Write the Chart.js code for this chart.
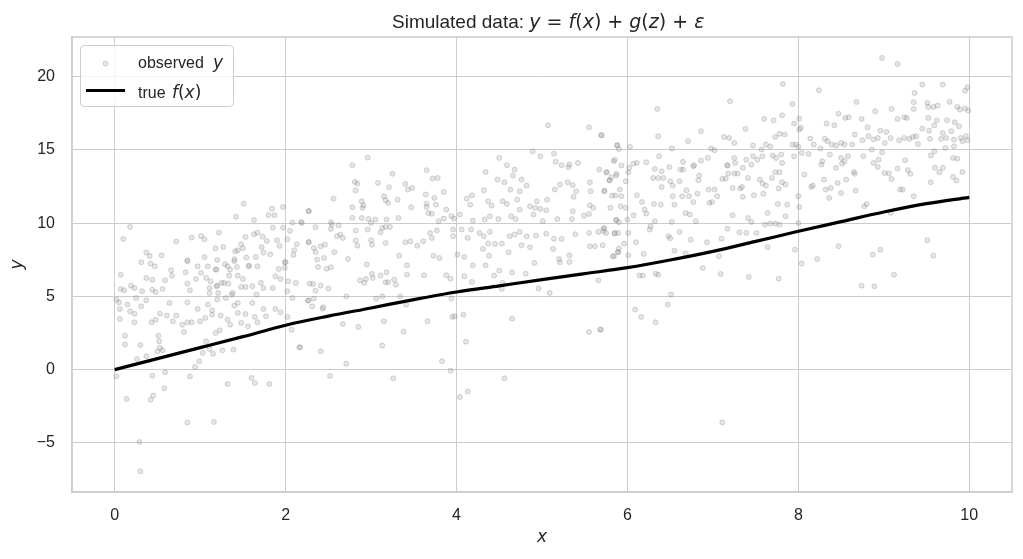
<!DOCTYPE html>
<html>
<head>
<meta charset="utf-8">
<script src="https://cdn.jsdelivr.net/npm/chart.js@4.4.0/dist/chart.umd.min.js"></script>
<style>
  body { margin: 0; background: #fff; }
  canvas { display: block; }
</style>
</head>
<body>
<canvas id="myChart" width="1023" height="559"></canvas>
<script>
const curveX = [0, 0.5, 1, 1.5, 2, 2.5, 3, 3.5, 4, 4.5, 5, 5.5, 6, 6.5, 7, 7.5, 8, 8.5, 9, 9.5, 10];
const curveY = [0, 0.75, 1.5, 2.25, 3.03, 3.65, 4.21, 4.78, 5.3, 5.72, 6.14, 6.55, 6.96, 7.48, 8.07, 8.75, 9.44, 10.1, 10.76, 11.33, 11.76];

const xTicks = [0, 2, 4, 6, 8, 10];
const yTicks = [-5, 0, 5, 10, 15, 20];

// observed y as [x, y]
const observed = [
  [0.31,7.33],[0.42,7.24],[0.47,7.05],[0.85,7.4],[0.97,7.05],[1.09,7.05],[1.19,6.83],[1.29,7.2],[1.4,7.4],[1.57,7.05],[1.67,7.05],[1.99,7.33],[1.99,6.96],
  [0.07,6.48],[0.37,6.26],[0.44,6.14],[0.66,6.78],[0.67,6.42],[0.83,6.64],[0.95,6.19],[1.01,6.6],[1.07,6.26],[1.12,6.03],[1.18,6.83],[1.34,6.42],[1.44,6.42],[1.5,6.19],[1.71,5.92],[1.88,6.37],[1.94,6.19],[2.03,6.03],[2.12,5.92],
  [0.07,5.5],[0.11,5.42],[0.19,5.73],[0.23,5.57],[0.32,5.35],[0.44,5.46],[0.48,5.3],[0.56,5.5],[0.85,5.87],[0.88,5.42],[1.11,5.57],[1.11,5.23],[1.2,5.73],[1.21,5.23],[1.28,5.92],[1.33,5.87],[1.38,5.23],[1.48,5.64],[1.53,5.64],[1.61,5.69],[1.66,5.12],[1.74,5.57],[1.85,5.57],[2.02,5.35],[2.08,4.89],[2.28,5.87],
  [0.02,4.78],[0.05,4.6],[0.06,4.14],[0.15,4.44],[0.18,3.98],[0.23,3.82],[0.25,4.89],[0.31,4.32],[0.37,4.73],[0.64,4.55],[0.85,4.6],[0.97,4.14],[1.09,4.44],[1.14,4.05],[1.2,4.78],[1.3,4.89],[1.4,4.37],[1.44,4.55],[1.61,4.55],[1.74,4.14],[1.88,4.14],[1.94,3.91],[2.27,4.73],
  [0.06,3.46],[0.23,3.23],[0.43,3.23],[0.48,3.41],[0.53,3.82],[0.61,3.69],[0.68,3.3],[0.72,3.69],[0.79,3.07],[0.85,3.23],[0.9,3.23],[1.0,3.3],[1.06,3.53],[1.14,3.75],[1.24,3.69],[1.32,3.41],[1.35,3.07],[1.44,3.87],[1.48,3.19],[1.53,3.8],[1.56,2.96],[1.64,3.6],[1.67,3.23],[1.77,3.64],[2.02,3.6],[2.07,2.73],
  [0.12,2.32],[0.12,1.71],[0.3,1.68],[0.51,2.32],[0.52,1.93],[0.53,1.48],[0.56,1.32],[0.5,1.25],[0.26,0.73],[0.37,0.91],[0.81,2.57],[1.07,1.93],[1.03,1.14],[1.11,1.41],[1.15,1.09],[1.18,2.5],[1.23,2.68],[1.26,1.32],[1.39,1.37],[0.99,0.57],[0.94,0.18],[2.16,1.52],
  [0.02,-0.46],[0.44,-0.41],[0.59,-0.18],[0.88,-0.46],[1.32,-0.98],[1.6,-0.57],[1.64,-0.91],[1.81,-0.98],[0.58,-1.27],[0.45,-1.77],[0.42,-2.05],[0.14,-2.0],[0.85,-3.6],[1.16,-3.57],[0.29,-4.94],[0.3,-6.94],
  [1.51,11.33],[1.42,10.44],[1.63,10.22],[1.84,10.99],[1.97,11.1],[1.8,10.56],[1.87,10.54],[2.27,10.83],[2.08,10.04],[2.18,10.08],[0.18,9.74],[0.1,8.92],[0.72,8.74],[0.9,9.01],[1.01,9.12],[1.05,8.9],[1.22,9.35],[1.18,8.28],[1.27,8.37],[1.48,8.56],[1.53,9.06],[1.63,9.24],[1.67,9.35],[1.73,9.08],[1.78,8.78],[1.85,9.69],[1.97,9.69],[2.02,8.9],[2.05,9.47],[2.27,8.71],[1.9,8.83],
  [0.37,7.99],[0.41,7.76],[0.55,7.8],[0.85,7.46],[1.05,7.69],[1.2,7.49],[1.4,7.53],[1.44,8.15],[1.5,8.28],[1.54,7.65],[1.65,7.69],[1.74,7.99],[1.82,7.87],[1.93,8.44],[2.1,8.15],[2.13,8.56],[2.09,7.83],
  [1.41,8.08],[1.57,7.1],[1.72,8.37],[1.92,6.87],[2.0,7.33],[0.59,6.1],[1.43,7.0],[1.32,7.05],[1.35,6.83],[1.19,5.69],[1.25,5.92],[1.37,5.12],
  [5.07,16.68],[5.55,16.54],[5.69,16.0],[5.88,15.31],[4.89,14.9],[4.98,14.56],[5.14,14.74],[5.16,14.18],[5.23,13.95],[5.32,14.0],[5.31,13.81],[5.42,14.11],[5.67,13.65],[5.75,13.47],[5.84,14.22],[5.79,12.92],[5.87,13.24],
  [2.78,13.95],[2.96,14.47],[3.65,13.61],[3.25,13.36],[3.72,13.04],[3.78,13.08],[4.5,14.45],[4.59,13.95],[4.68,13.65],[4.66,13.24],[4.34,13.49],[4.48,12.97],[4.56,12.79],[4.76,12.97],[4.82,12.56],
  [2.81,12.81],[2.84,12.7],[2.82,12.22],[3.08,12.74],[3.21,12.45],[3.4,12.67],[3.43,12.29],[3.48,12.4],[3.85,12.13],[4.63,12.29],[4.74,12.17],[4.32,12.24],
  [2.56,11.67],[3.15,11.83],[3.17,11.56],[3.2,11.38],[3.31,11.6],[3.64,11.95],[3.74,11.72],[4.12,11.67],[4.18,11.9],[4.16,11.26],[4.37,11.49],[4.41,11.19],[4.54,11.49],[4.59,11.31],[4.71,11.6],[4.74,10.92],[4.86,11.15],[4.94,11.49],[4.92,11.04],[4.98,10.97],[5.05,10.88],[5.06,11.6],
  [5.15,12.29],[5.21,12.63],[5.3,12.79],[5.36,12.6],[5.4,12.17],[5.37,11.79],[5.56,12.79],[5.57,12.17],[5.73,12.22],[5.82,11.88],[5.56,11.22],[5.6,11.04],
  [2.27,10.81],[2.78,11.08],[2.89,11.49],[2.9,11.04],[2.89,10.35],[2.97,10.28],[3.05,10.24],[3.18,10.24],[3.32,10.35],[3.47,11.08],[3.65,11.1],[3.67,10.69],[3.76,11.26],[3.88,10.92],[3.79,10.13],[3.85,10.31],[3.94,10.47],[3.97,10.31],[4.04,10.58],[4.19,10.17],[4.33,10.24],[4.39,10.47],[4.49,10.28],[4.64,10.47],[4.69,10.28],[4.9,10.58],[5.01,10.13],[5.18,10.28],[5.35,10.28],[5.36,10.81],[5.49,10.51],[5.55,10.62],[5.87,10.19],[5.8,11.04],
  [2.91,11.22],[2.78,10.36],[3.65,11.32],[3.71,10.64],[2.54,9.9],
  [2.19,10.01],[2.35,9.72],[2.53,10.06],[2.53,9.6],[2.62,9.85],[2.82,9.49],[2.96,9.56],[3.0,10.01],[3.11,9.37],[3.17,9.74],[3.22,9.74],[3.13,9.67],[3.69,9.33],[3.71,8.99],[3.77,9.51],[3.96,9.56],[3.96,9.1],[4.06,9.56],[4.13,8.99],[4.17,9.56],[4.27,9.33],[4.39,9.4],[4.32,9.1],[4.62,9.1],[4.68,9.22],[4.74,9.4],[4.82,9.1],[4.93,9.15],[5.05,9.28],[5.14,8.94],[5.23,8.92],[5.39,9.24],[5.55,9.33],[5.66,9.4],[5.72,9.62],[5.75,9.33],[5.85,9.28],
  [2.27,8.69],[2.33,8.3],[2.41,8.42],[2.46,8.53],[2.6,9.1],[2.64,9.22],[2.67,8.99],[2.82,8.81],[2.84,8.46],[3.0,8.83],[3.01,8.53],[3.17,8.65],[3.4,8.69],[3.46,8.76],[3.54,8.46],[3.61,8.76],[3.73,7.78],[3.8,7.62],[4.01,7.85],[4.09,7.69],[4.37,8.6],[4.31,8.24],[4.38,7.78],[4.45,8.58],[4.53,8.6],[4.61,8.01],[4.76,8.49],[4.86,8.35],[5.13,8.24],[5.2,7.55],[5.32,7.8],[5.32,7.35],[5.56,8.42],[5.62,8.42],[5.71,8.49],[5.83,7.74],[5.89,8.03],
  [2.35,8.03],[2.57,8.01],[2.37,7.51],[2.45,7.62],[2.38,7.01],[2.48,6.89],[2.53,6.99],[3.33,7.78],[3.42,7.12],[2.95,7.17],[2.73,7.55],[3.42,6.48],[3.62,6.44],[3.88,6.44],[3.93,6.21],[4.09,6.37],[4.19,7.12],[4.34,7.12],[4.44,6.42],[4.5,6.76],[4.65,6.64],[4.81,6.55],[4.91,7.28],[5.21,7.33],
  [2.87,6.1],[2.92,5.92],[2.94,6.19],[3.01,6.53],[3.02,6.26],[3.11,6.42],[3.18,6.64],[3.17,5.96],[3.2,5.96],[3.27,6.14],[3.29,5.8],[2.32,5.85],[2.41,5.73],[2.5,5.53],[2.35,5.39],[2.33,4.85],[2.26,4.71],[2.31,4.32],[2.44,4.25],[2.43,4.16],[2.71,5.0],[3.06,4.85],[3.13,5.0],[3.34,5.0],[3.41,4.44],
  [4.18,5.98],[4.53,5.51],[4.54,5.92],[4.96,5.53],[5.09,5.23],[5.66,6.1],[3.94,4.85],[3.95,3.6],[3.98,3.64],[4.08,3.75],[4.65,3.48],[2.67,3.12],[2.85,2.91],[3.15,3.3],[3.66,3.3],[3.38,2.59],[2.17,1.52],[2.41,1.25],[3.13,1.64],[4.11,1.91],[3.83,0.57],[3.93,-0.07],[2.71,0.41],[2.52,-0.43],[3.26,-0.59],[4.56,-0.59],[4.04,-1.87],[4.13,-1.5],[5.55,2.57],[5.69,2.73],
  [8.98,21.27],[9.16,20.86],[7.82,19.5],[8.24,19.07],[9.45,19.45],[9.69,19.45],[9.36,18.88],[9.98,19.27],[9.95,19.04],[9.99,17.68],[7.2,18.32],[8.68,18.27],[7.93,18.13],[9.51,18.2],[9.52,17.93],[9.58,17.93],[9.63,18.02],[9.77,18.27],[9.86,17.93],[9.89,17.75],[9.95,17.82],[9.09,17.79],[8.9,17.63],[9.35,18.25],[9.35,17.79],
  [8.47,17.47],[8.55,17.18],[8.59,17.22],[8.74,17.11],[9.16,17.11],[9.24,17.22],[9.27,17.18],[9.52,17.18],[9.62,17.0],[9.74,17.02],[9.83,16.88],[9.88,16.61],[7.6,17.11],[7.71,17.02],[7.81,17.36],[6.35,17.79],[7.95,16.79],[8.01,17.13],[8.01,16.38],[8.03,16.5],[8.33,16.79],[8.42,16.68],[8.81,16.54],[8.96,16.31],[9.03,16.22],[9.45,16.45],[9.53,16.31],[9.59,16.66],[9.69,16.15],[9.79,16.27],
  [7.38,16.43],[6.86,16.27],[6.36,15.93],[7.84,16.04],[7.78,16.09],[7.73,15.88],[7.13,15.88],[7.19,15.81],[7.25,15.47],[6.71,15.59],[8.14,15.77],[8.31,15.75],[8.34,15.59],[8.66,16.04],[8.75,15.65],[8.82,15.93],[8.88,15.7],[8.93,15.81],[9.01,15.47],[9.08,15.81],[9.18,15.65],[9.24,15.81],[9.3,15.75],[9.34,15.88],[9.38,15.93],[9.4,15.4],[9.54,15.75],[9.67,15.75],[9.73,15.81],[9.82,15.7],[9.9,15.81],[9.96,15.93],[9.92,15.59],[9.82,15.24],[9.72,15.13],[9.59,14.9],[9.55,14.61],[9.98,15.65],
  [7.93,15.36],[7.97,15.36],[8.0,15.2],[8.04,14.79],[8.12,14.72],[8.18,15.36],[8.26,15.09],[8.39,15.36],[8.44,15.29],[8.5,15.47],[8.54,15.36],[8.63,15.36],[8.37,14.68],[8.5,14.45],[8.58,14.56],[8.54,14.22],[8.51,14.06],[8.76,14.56],[8.86,15.02],[8.98,14.83],[8.94,14.33],[8.88,14.11],[8.93,13.83],[9.01,13.42],[9.06,13.38],[9.09,13.01],[9.16,13.72],[9.25,14.29],[9.28,13.61],[9.31,13.36],[9.22,12.29],[9.19,12.29],[9.35,11.83],
  [9.6,13.77],[9.65,13.47],[9.69,13.77],[9.81,14.45],[9.86,14.4],[9.92,13.49],[9.81,13.15],[9.85,12.9],[9.55,12.79],[9.51,8.83],[9.58,7.78],
  [7.47,15.29],[7.57,15.02],[7.62,15.36],[7.67,15.24],[7.47,14.56],[7.52,14.33],[7.58,14.56],[7.7,14.61],[7.74,14.45],[7.8,14.68],[7.81,14.11],[7.95,14.56],[7.39,14.33],[7.45,13.99],[7.35,13.77],[7.25,14.45],[7.26,14.11],[7.17,13.95],[7.02,14.97],[6.98,15.09],[6.94,14.45],[6.86,14.27],[6.77,13.88],[6.65,14.18],[6.62,13.65],[6.52,15.09],[6.49,13.83],[6.37,14.56],[6.32,13.7],[6.3,13.08],[6.4,13.54],[6.42,13.08],[6.22,14.15],[6.11,14.11],[6.07,14.06],[6.02,13.77],[6.01,13.47],
  [5.85,14.33],[5.93,13.93],[5.88,15.31],[5.9,15.06],[6.03,15.2],[5.7,16.0],[5.76,13.47],[5.87,13.36],[5.79,12.92],[5.81,13.13],[5.98,12.86],[5.91,12.29],[5.73,12.17],[5.86,11.88],[5.93,11.83],[5.92,11.15],[5.98,11.04],[6.11,11.9],[6.17,11.44],[6.2,10.92],[6.22,10.65],[6.31,11.31],[6.36,13.08],[6.39,11.26],[6.4,12.47],[6.5,12.86],[6.53,12.56],[6.53,11.83],[6.61,12.86],[6.65,13.65],[6.69,12.24],[6.72,11.83],[6.64,11.83],[6.68,10.69],[6.73,10.58],[6.77,11.44],[6.82,12.01],[6.78,13.95],[6.84,13.24],[6.83,12.92],[6.8,10.13],
  [6.95,12.29],[7.02,12.29],[7.05,11.83],[6.96,11.38],[6.99,11.44],[7.11,13.01],[7.15,13.04],[7.17,13.93],[7.18,13.38],[7.23,12.4],[7.25,13.38],[7.29,13.38],[7.32,12.36],[7.35,11.79],[7.34,12.47],[7.41,13.08],[7.48,11.9],[7.55,12.97],[7.58,12.7],[7.62,12.56],[7.59,12.01],[7.64,10.69],[7.69,13.08],[7.73,13.47],[7.78,13.47],[7.81,12.79],[7.77,12.36],[7.85,12.63],[7.76,11.31],[7.87,11.26],[7.85,10.47],[8.0,11.83],[8.01,11.1],
  [8.07,13.31],[8.15,12.47],[8.17,12.56],[8.27,13.99],[8.28,14.22],[8.3,12.97],[8.32,12.29],[8.36,11.72],[8.38,12.4],[8.44,13.77],[8.46,12.74],[8.5,12.06],[8.56,12.97],[8.66,13.36],[8.65,13.49],[8.67,12.22],[8.77,11.15],[8.8,11.31],[9.08,10.69],
  [8.47,8.42],[8.87,7.85],[8.96,8.19],[9.12,6.48],[8.74,5.73],[8.89,5.69],[8.22,7.55],[8.04,7.24],[7.96,8.19],[7.77,6.21],[7.64,8.35],[7.42,6.33],[7.09,6.53],[7.07,7.74],[6.88,6.94],[6.68,7.92],[6.74,8.87],[6.61,9.4],[6.55,8.12],[6.5,8.97],[6.48,9.1],[6.93,8.69],[7.1,8.94],[7.17,9.62],[7.23,10.53],[7.31,9.37],[7.39,9.33],[7.41,10.35],[7.45,10.08],[7.51,9.33],[7.61,9.9],[7.67,9.97],[7.73,9.97],[7.78,9.9],[8.0,10.01],
  [6.33,6.55],[6.36,6.48],[6.14,6.42],[6.18,6.42],[6.19,7.9],[6.1,8.69],[6.01,9.33],[6.01,7.8],[5.96,8.6],[5.89,9.33],[5.85,9.33],[5.9,8.26],[5.89,8.01],[5.84,7.74],[5.72,9.44],[5.73,9.67],[5.87,10.24],[5.9,10.06],[6.0,10.24],[6.07,10.53],[6.26,9.56],[6.27,9.78],[6.32,10.13],[6.52,10.08],[6.55,11.26],
  [6.09,4.1],[6.16,3.6],[6.33,3.23],[6.51,5.12],[6.47,4.44],[5.68,2.73],[7.11,-3.6]
];

const uiFont = "'Liberation Sans', Arial, sans-serif";
const mathFont = "'DejaVu Sans', sans-serif";
const textColor = "#262626";
const edgeColor = "#cccccc";

// runs of [text, style]: r = plain, m = math upright, i = math italic
function runFont(style, size) {
  if (style === "i") return "italic " + size + "px " + mathFont;
  if (style === "m") return size + "px " + mathFont;
  return size + "px " + uiFont;
}

function drawRuns(c, runs, x, y, size, align) {
  let total = 0;
  for (const [t, s] of runs) {
    c.font = runFont(s, size);
    total += c.measureText(t).width;
  }
  let cx = align === "center" ? x - total / 2 : x;
  c.textAlign = "left";
  for (const [t, s] of runs) {
    c.font = runFont(s, size);
    c.fillText(t, cx, y);
    cx += c.measureText(t).width;
  }
}

const decorations = {
  id: "decorations",
  afterDraw(chart) {
    const c = chart.ctx;
    const a = chart.chartArea;
    c.save();

    // frame on all four sides
    c.strokeStyle = edgeColor;
    c.lineWidth = 1.5;
    c.strokeRect(a.left, a.top, a.right - a.left, a.bottom - a.top);

    c.fillStyle = textColor;
    c.textBaseline = "alphabetic";
    drawRuns(c, [
      ["Simulated data: ", "r"], ["y", "i"], [" = ", "m"], ["f", "i"], ["(", "m"], ["x", "i"],
      [") + ", "m"], ["g", "i"], ["(", "m"], ["z", "i"], [") + ", "m"], ["ε", "i"]
    ], 392, 28, 19, "left");

    // axis labels
    c.textBaseline = "middle";
    drawRuns(c, [["x", "i"]], (a.left + a.right) / 2, 538, 17, "center");
    c.save();
    c.translate(18, (a.top + a.bottom) / 2);
    c.rotate(-Math.PI / 2);
    drawRuns(c, [["y", "i"]], 0, 0, 17, "center");
    c.restore();

    // legend
    c.beginPath();
    c.roundRect(80.5, 45.5, 153, 61, 4);
    c.fillStyle = "rgba(255,255,255,0.8)";
    c.fill();
    c.strokeStyle = edgeColor;
    c.lineWidth = 1;
    c.stroke();

    c.beginPath();
    c.arc(105.5, 63.5, 2.5, 0, Math.PI * 2);
    c.fillStyle = "rgba(128,128,128,0.2)";
    c.fill();
    c.strokeStyle = "rgba(128,128,128,0.3)";
    c.stroke();

    c.beginPath();
    c.moveTo(86, 90.5);
    c.lineTo(125, 90.5);
    c.strokeStyle = "#000";
    c.lineWidth = 3.2;
    c.stroke();

    c.fillStyle = textColor;
    c.textBaseline = "alphabetic";
    drawRuns(c, [["observed", "r"]], 138, 67.5, 16, "left");
    drawRuns(c, [["y", "i"]], 213, 67.5, 17, "left");
    drawRuns(c, [["true", "r"]], 138, 97.5, 16, "left");
    drawRuns(c, [["f", "i"], ["(", "m"], ["x", "i"], [")", "m"]], 172, 97.5, 17, "left");
    c.restore();
  }
};

const ctx = document.getElementById("myChart").getContext("2d");

const myChart = new Chart(ctx, {
  type: "scatter",
  data: {
    datasets: [
      {
        label: "true f(x)",
        type: "line",
        data: curveX.map((x, i) => ({ x: x, y: curveY[i] })),
        borderColor: "#000",
        borderWidth: 3.2,
        pointRadius: 0,
        cubicInterpolationMode: "monotone",
        order: 0,
      },
      {
        label: "observed y",
        data: observed.map(p => ({ x: p[0], y: p[1] })),
        pointRadius: 2.5,
        backgroundColor: "rgba(128,128,128,0.2)",
        borderColor: "rgba(128,128,128,0.3)",
        borderWidth: 1,
        order: 1,
      },
    ],
  },
  options: {
    responsive: false,
    animation: false,
    devicePixelRatio: 1,
    layout: { padding: { top: 37, right: 11, left: 0, bottom: 0 } },
    plugins: {
      legend: { display: false },
      tooltip: { enabled: false },
    },
    scales: {
      x: {
        type: "linear",
        min: -0.5,
        max: 10.5,
        afterBuildTicks: s => { s.ticks = xTicks.map(v => ({ value: v })); },
        afterFit: s => { s.height = 67; },
        grid: { color: edgeColor, lineWidth: 1, drawTicks: false },
        border: { color: edgeColor, width: 1.5 },
        ticks: { color: textColor, font: { family: uiFont, size: 16 }, padding: 14, maxRotation: 0 },
      },
      y: {
        type: "linear",
        min: -8.35,
        max: 22.7,
        afterBuildTicks: s => { s.ticks = yTicks.map(v => ({ value: v })); },
        afterFit: s => { s.width = 72; },
        grid: { color: edgeColor, lineWidth: 1, drawTicks: false },
        border: { color: edgeColor, width: 1.5 },
        ticks: {
          color: textColor,
          font: { family: uiFont, size: 16 },
          padding: 17,
          callback: v => String(v).replace("-", "\u2212"),
        },
      },
    },
  },
  plugins: [decorations],
});
</script>
</body>
</html>
